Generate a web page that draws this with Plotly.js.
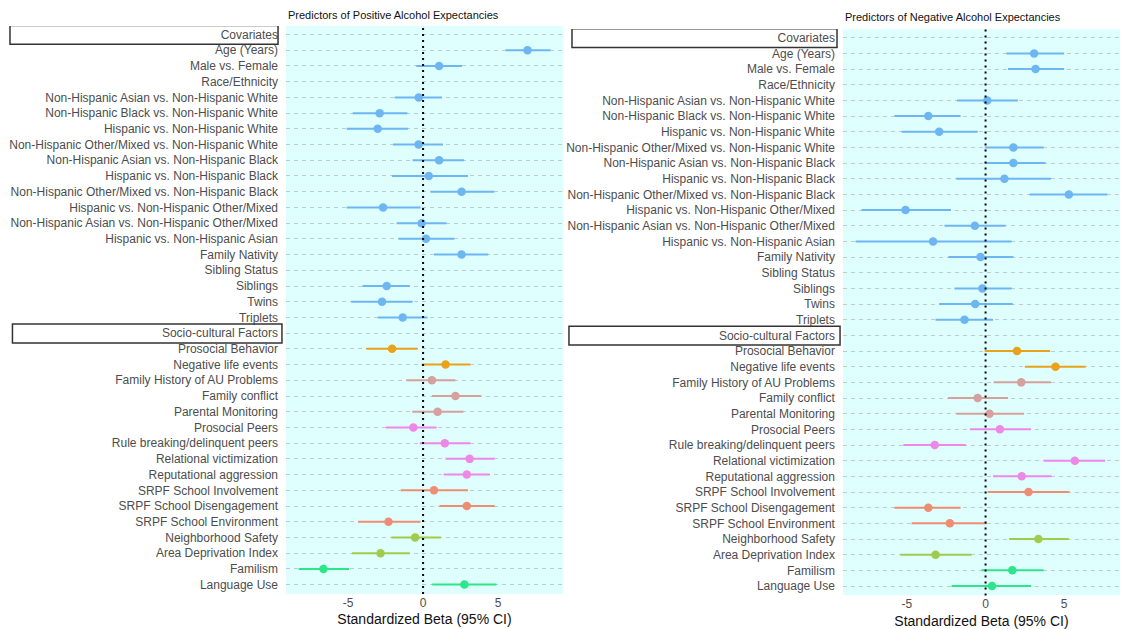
<!DOCTYPE html>
<html><head><meta charset="utf-8">
<script src="https://cdn.plot.ly/plotly-3.0.1.min.js"></script>
<style>html,body{margin:0;padding:0;background:#fff}#chart{width:1122px;height:629px}</style>
</head><body><div id="chart"></div>
<script>
const labels = [
  "Covariates","Age (Years)","Male vs. Female","Race/Ethnicity",
  "Non-Hispanic Asian vs. Non-Hispanic White","Non-Hispanic Black vs. Non-Hispanic White",
  "Hispanic vs. Non-Hispanic White","Non-Hispanic Other/Mixed vs. Non-Hispanic White",
  "Non-Hispanic Asian vs. Non-Hispanic Black","Hispanic vs. Non-Hispanic Black",
  "Non-Hispanic Other/Mixed vs. Non-Hispanic Black","Hispanic vs. Non-Hispanic Other/Mixed",
  "Non-Hispanic Asian vs. Non-Hispanic Other/Mixed","Hispanic vs. Non-Hispanic Asian",
  "Family Nativity","Sibling Status","Siblings","Twins","Triplets",
  "Socio-cultural Factors","Prosocial Behavior","Negative life events",
  "Family History of AU Problems","Family conflict","Parental Monitoring",
  "Prosocial Peers","Rule breaking/delinquent peers","Relational victimization",
  "Reputational aggression","SRPF School Involvement","SRPF School Disengagement",
  "SRPF School Environment","Neighborhood Safety","Area Deprivation Index",
  "Familism","Language Use"
];
const groups = [
  "header","cov","cov","header","cov","cov","cov","cov","cov","cov","cov","cov","cov","cov",
  "cov","header","cov","cov","cov",
  "header","temper","temper","family","family","family","peer","peer","peer","peer",
  "school","school","school","neigh","neigh","culture","culture"
];
const headerLabels = ["Covariates","Socio-cultural Factors"];

const posEst = [null,6.97,1.07,null,-0.29,-2.9,-3.03,-0.3,1.07,0.38,2.57,-2.67,-0.1,0.19,2.57,null,-2.43,-2.74,-1.36,
  null,-2.07,1.5,0.59,2.16,0.97,-0.65,1.45,3.11,2.92,0.73,2.92,-2.31,-0.53,-2.84,-6.65,2.76];
const posLo  = [null,5.5,-0.45,null,-1.9,-4.7,-5.1,-2.0,-0.7,-2.07,0.5,-5.1,-1.77,-1.65,0.73,null,-4.05,-4.8,-3.03,
  null,-3.8,-0.1,-1.13,0.59,-0.72,-2.48,-0.22,1.5,1.37,-1.48,1.09,-4.34,-2.12,-4.74,-8.31,0.61];
const posHi  = [null,8.5,2.6,null,1.26,-1.05,-1.0,1.33,2.73,3.0,4.76,-0.17,1.57,2.09,4.35,null,-0.89,-0.7,0.3,
  null,-0.36,3.16,2.16,3.88,2.69,0.9,3.16,4.78,4.47,3.0,4.78,-0.17,1.19,-0.89,-4.93,4.9];

const negEst = [null,3.09,3.18,null,0.11,-3.64,-2.95,1.77,1.77,1.2,5.3,-5.09,-0.68,-3.34,-0.32,null,-0.2,-0.66,-1.34,
  null,2.0,4.45,2.27,-0.5,0.25,0.91,-3.23,5.68,2.3,2.73,-3.64,-2.27,3.36,-3.18,1.7,0.41];
const negLo  = [null,1.32,1.43,null,-1.82,-5.8,-5.34,-0.05,-0.05,-1.86,2.8,-7.89,-2.61,-8.27,-2.36,null,-1.98,-2.95,-3.18,
  null,-0.05,2.5,0.52,-2.39,-1.86,-1.0,-5.23,3.7,0.48,0.14,-5.8,-4.7,1.5,-5.43,-0.27,-2.16];
const negHi  = [null,5.0,5.0,null,2.05,-1.59,-0.5,3.7,3.82,4.16,7.75,-2.2,1.27,1.66,1.77,null,1.66,1.73,0.48,
  null,4.11,6.36,4.16,1.43,2.45,2.9,-1.25,7.61,4.2,5.34,-1.59,0.07,5.3,-0.89,3.7,2.9];

const panelTitles = ["Predictors of Positive Alcohol Expectancies","Predictors of Negative Alcohol Expectancies"];
const xTitle = "Standardized Beta (95% CI)";
const xTicks = [-5,0,5];
const xTickLabels = ["-5","0","5"];

const groupColors = {cov:"#6DB6F2",temper:"#E8A21B",family:"#D6A19D",peer:"#EE88E6",
  school:"#EE8D71",neigh:"#A2CB4C",culture:"#2DE68A"};
const FONT = "Liberation Sans, Arial, sans-serif";

const rows = labels.map((_, i) => i);
const traces = [];
function addPanel(est, lo, hi, xa, ya) {
  Object.keys(groupColors).forEach(g => {
    const idx = rows.filter(i => groups[i] === g && est[i] !== null);
    traces.push({
      type: "scatter", mode: "markers", xaxis: xa, yaxis: ya, showlegend: false,
      x: idx.map(i => est[i]), y: idx.map(i => i),
      marker: {color: groupColors[g], size: 8.5},
      error_x: {type: "data", symmetric: false,
        array: idx.map(i => hi[i] - est[i]), arrayminus: idx.map(i => est[i] - lo[i]),
        color: groupColors[g], thickness: 2, width: 0},
      hoverinfo: "skip"
    });
  });
}
addPanel(posEst, posLo, posHi, "x", "y");
addPanel(negEst, negLo, negHi, "x2", "y2");

function xAxis(domain, range, anchor) {
  return {domain: domain, range: range, anchor: anchor, tickvals: xTicks, ticktext: xTickLabels, ticks: "",
    showgrid: false, zeroline: false, showline: false,
    tickfont: {family: FONT, size: 12, color: "#4d4d4d"},
    title: {text: xTitle, font: {family: FONT, size: 14, color: "#111"}, standoff: 5}};
}
function yAxis(domain, anchor) {
  return {domain: domain, range: [labels.length - 0.4, -0.55], anchor: anchor,
    tickvals: rows, ticktext: labels, ticks: "", showgrid: true,
    gridcolor: "#b4c0c0", gridwidth: 0.8, griddash: "4px,4px",
    zeroline: false, showline: false, ticklabelstandoff: 7,
    tickfont: {family: FONT, size: 12, color: "#4d4d4d"}};
}

const shapes = [];
[["x","y"],["x2","y2"]].forEach(([xa, ya]) => {
  shapes.push({type: "line", xref: xa, yref: ya + " domain", x0: 0, x1: 0, y0: 0, y1: 1,
    line: {color: "#000", width: 2, dash: "2px,4px"}, layer: "above"});
});
const boxX = {y: [[0.0089, 0.2478], [0.0111, 0.2513]], y2: [[0.5098, 0.746], [0.5071, 0.7487]]};
["y","y2"].forEach(ya => {
  headerLabels.forEach((h, k) => {
    const i = labels.indexOf(h);
    shapes.push({type: "rect", xref: "paper", yref: ya, x0: boxX[ya][k][0], x1: boxX[ya][k][1],
      y0: i - 0.58, y1: i + 0.62, line: {color: "#333", width: 1.5}, fillcolor: "rgba(0,0,0,0)"});
  });
});

const layout = {
  width: 1122, height: 629, margin: {l: 0, r: 0, t: 0, b: 0},
  paper_bgcolor: "#ffffff", plot_bgcolor: "#DFFEFE",
  font: {family: FONT},
  xaxis: xAxis([0.2549, 0.5018], [-9.15, 9.34], "y"),
  yaxis: yAxis([0.0556, 0.9588], "x"),
  xaxis2: xAxis([0.7513, 0.9982], [-9.07, 8.55], "y2"),
  yaxis2: yAxis([0.0534, 0.9537], "x2"),
  shapes: shapes,
  annotations: [
    {text: panelTitles[0], xref: "paper", yref: "paper", x: 0.2549, y: 1 - 15/629,
     xanchor: "left", yanchor: "middle", showarrow: false, font: {family: FONT, size: 11, color: "#111"}},
    {text: panelTitles[1], xref: "paper", yref: "paper", x: 0.7513, y: 1 - 17.3/629,
     xanchor: "left", yanchor: "middle", showarrow: false, font: {family: FONT, size: 11, color: "#111"}}
  ]
};
Plotly.newPlot("chart", traces, layout, {staticPlot: true, displayModeBar: false});
</script></body></html>
